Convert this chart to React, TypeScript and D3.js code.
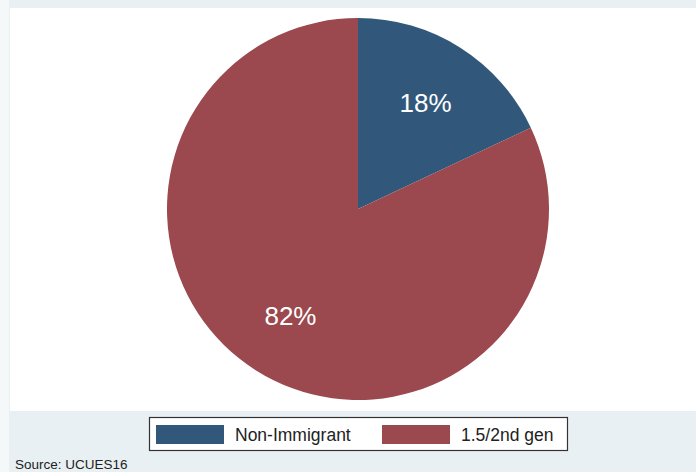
import React from "react";
import * as d3 from "d3";

const categories = ["Non-Immigrant", "1.5/2nd gen"];
const values = [18, 82];
const labels = ["18%", "82%"];
const colors = ["#31587b", "#9b484e"];
const sourceNote = "Source: UCUES16";

export default function App() {
  const W = 696, H = 472;
  const cx = 358, cy = 209, R = 191;
  const pie = d3.pie<number>().sort(null).value((d) => d);
  const arcs = pie(values);
  const arc = d3.arc<d3.PieArcDatum<number>>().innerRadius(0).outerRadius(R);
  const labelArc = d3.arc<d3.PieArcDatum<number>>().innerRadius(R * 0.66).outerRadius(R * 0.66);

  const legendX = [156, 382];
  return (
    <svg width={W} height={H} style={{ position: "absolute", left: 0, top: 0, fontFamily: "Liberation Sans, Arial, sans-serif" }}>
      <rect x={0} y={0} width={W} height={H} fill="#e9f0f3" />
      <rect x={0} y={0} width={9} height={H} fill="#f4f8f9" />
      <rect x={10} y={8} width={W - 10} height={403} fill="#ffffff" />
      <g transform={`translate(${cx},${cy})`}>
        {arcs.map((a, i) => (
          <path key={i} d={arc(a) || ""} fill={colors[i]} />
        ))}
        {arcs.map((a, i) => {
          const [x, y] = labelArc.centroid(a);
          return (
            <text key={i} x={x} y={y} dy="0.36em" textAnchor="middle" fill="#ffffff" fontSize={26}>
              {labels[i]}
            </text>
          );
        })}
      </g>
      <rect x={149.5} y={417.5} width={418} height={33} fill="#ffffff" stroke="#333" strokeWidth={1.2} />
      {categories.map((c, i) => (
        <g key={c}>
          <rect x={legendX[i]} y={425} width={68} height={19} fill={colors[i]} />
          <text x={legendX[i] + 79} y={435} dy="0.36em" fontSize={17.5} fill="#222">{c}</text>
        </g>
      ))}
      <text x={15} y={469} fontSize={13.5} fill="#222">{sourceNote}</text>
    </svg>
  );
}
